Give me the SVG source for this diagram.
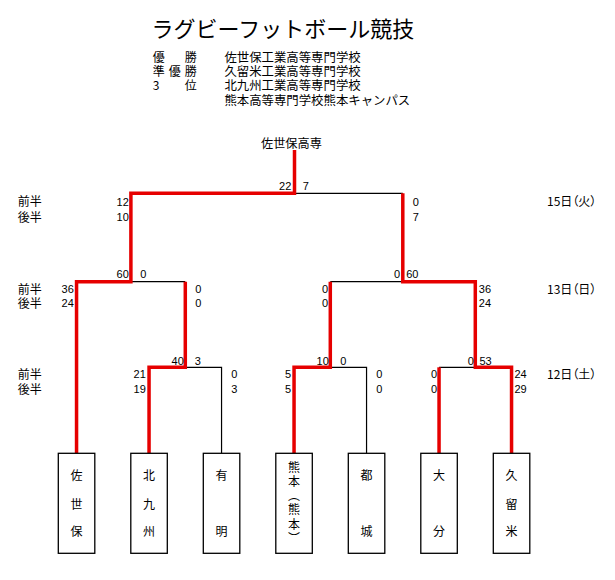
<svg xmlns="http://www.w3.org/2000/svg" width="615" height="580" viewBox="0 0 615 580">
<style>
.red{stroke:#e60000;stroke-width:3.5;fill:none;stroke-linejoin:miter;stroke-linecap:butt}
.blk{stroke:#000;stroke-width:1.2;fill:none}
.box{fill:#fff;stroke:#000;stroke-width:1.3}
text{font-family:"Noto Sans CJK JP",sans-serif;font-size:12px;fill:#000}
.n{font-family:"Liberation Sans","Noto Sans CJK JP",sans-serif;font-size:11px}
.e{text-anchor:end}
.m{text-anchor:middle}
.d{font-feature-settings:"palt";font-size:12px}
</style>
<rect width="615" height="580" fill="#fff"/>
<g id="title">
<text x="151.5" y="36.8" style="font-size:22px">ラグビーフットボール競技</text>
<text x="152.7 168.7 184.7" y="61.6">優　勝</text>
<text x="152.7 168.7 184.7" y="75.9">準優勝</text>
<text x="152.7 168.7 184.7" y="90.2">3　位</text>
<text x="224.4" y="61.6" style="font-size:12.4px">佐世保工業高等専門学校</text>
<text x="224.4" y="75.9" style="font-size:12.4px">久留米工業高等専門学校</text>
<text x="224.4" y="90.2" style="font-size:12.4px">北九州工業高等専門学校</text>
<text x="224.4" y="104.5" style="font-size:12.4px">熊本高等専門学校熊本キャンパス</text>
</g>
<g id="connectors">
<path class="blk" d="M221.55 453.3V367.3H185.3M366.55 453.3V367.3H330.3M439.05 367.3H475.3M130.9 281.7H185.3M330.3 281.7H402.8M294.5 193.3H402.8"/>
<path class="red" d="M76.55 453.3V281.7H130.9V193.3H294.5V150"/>
<path class="red" d="M149.05 453.3V367.3H185.3V281.7"/>
<path class="red" d="M294.05 453.3V367.3H330.3V281.7"/>
<path class="red" d="M439.05 453.3V367.3"/>
<path class="red" d="M511.55 453.3V367.3H475.3V281.7H402.8V193.3"/>
</g>
<g id="champion"><text x="261" y="148" style="font-size:12.2px">佐世保高専</text></g>
<g id="half-labels">
<text x="17.7" y="206.3">前半</text><text x="17.7" y="221.9">後半</text>
<text x="17.7" y="293.9">前半</text><text x="17.7" y="307.9">後半</text>
<text x="17.7" y="378.9">前半</text><text x="17.7" y="393.9">後半</text>
</g>
<g id="dates">
<text class="d" x="547" y="206.3">15日（火）</text>
<text class="d" x="547" y="293.9">13日（日）</text>
<text class="d" x="547" y="378.9">12日（土）</text>
</g>
<g id="scores">
<text class="n e" x="291.3" y="190">22</text><text class="n" x="302.8" y="190">7</text>
<text class="n e" x="128.8" y="205.6">12</text><text class="n e" x="128.8" y="221.2">10</text>
<text class="n" x="412.8" y="205.6">0</text><text class="n" x="412.8" y="221.2">7</text>
<text class="n e" x="128.8" y="278">60</text><text class="n" x="140.2" y="278">0</text>
<text class="n e" x="73.8" y="293.2">36</text><text class="n e" x="73.8" y="307.2">24</text>
<text class="n" x="195.2" y="293.2">0</text><text class="n" x="195.2" y="307.2">0</text>
<text class="n e" x="400" y="278">0</text><text class="n" x="406.2" y="278">60</text>
<text class="n e" x="328.2" y="293.2">0</text><text class="n e" x="328.2" y="307.2">0</text>
<text class="n" x="478.8" y="293.2">36</text><text class="n" x="478.8" y="307.2">24</text>
<text class="n e" x="183.8" y="364.6">40</text><text class="n" x="194.8" y="364.6">3</text>
<text class="n e" x="145.8" y="378.2">21</text><text class="n e" x="145.8" y="393.2">19</text>
<text class="n" x="231.2" y="378.2">0</text><text class="n" x="231.2" y="393.2">3</text>
<text class="n e" x="328.8" y="364.6">10</text><text class="n" x="340.2" y="364.6">0</text>
<text class="n e" x="291.2" y="378.2">5</text><text class="n e" x="291.2" y="393.2">5</text>
<text class="n" x="376.2" y="378.2">0</text><text class="n" x="376.2" y="393.2">0</text>
<text class="n e" x="473.8" y="364.6">0</text><text class="n" x="479.5" y="364.6">53</text>
<text class="n e" x="437.2" y="378.2">0</text><text class="n e" x="437.2" y="393.2">0</text>
<text class="n" x="514.5" y="378.2">24</text><text class="n" x="514.5" y="393.2">29</text>
</g>
<g id="team-sasebo"><rect class="box" x="58.3" y="453.3" width="36.5" height="100"/>
<text class="m" x="76.55" y="479.6">佐</text><text class="m" x="76.55" y="508.6">世</text><text class="m" x="76.55" y="536.3">保</text></g>
<g id="team-kitakyushu"><rect class="box" x="130.8" y="453.3" width="36.5" height="100"/>
<text class="m" x="149.05" y="479.6">北</text><text class="m" x="149.05" y="508.6">九</text><text class="m" x="149.05" y="536.3">州</text></g>
<g id="team-ariake"><rect class="box" x="203.3" y="453.3" width="36.5" height="100"/>
<text class="m" x="221.55" y="479.6">有</text><text class="m" x="221.55" y="536.3">明</text></g>
<g id="team-kumamoto"><rect class="box" x="275.8" y="453.3" width="36.5" height="100"/>
<text x="294.05" y="461.2" style="writing-mode:vertical-rl;letter-spacing:2.2px">熊本（熊本）</text></g>
<g id="team-miyakonojo"><rect class="box" x="348.3" y="453.3" width="36.5" height="100"/>
<text class="m" x="366.55" y="479.6">都</text><text class="m" x="366.55" y="536.3">城</text></g>
<g id="team-oita"><rect class="box" x="420.8" y="453.3" width="36.5" height="100"/>
<text class="m" x="439.05" y="479.6">大</text><text class="m" x="439.05" y="536.3">分</text></g>
<g id="team-kurume"><rect class="box" x="493.3" y="453.3" width="36.5" height="100"/>
<text class="m" x="511.55" y="479.6">久</text><text class="m" x="511.55" y="508.6">留</text><text class="m" x="511.55" y="536.3">米</text></g>
</svg>
